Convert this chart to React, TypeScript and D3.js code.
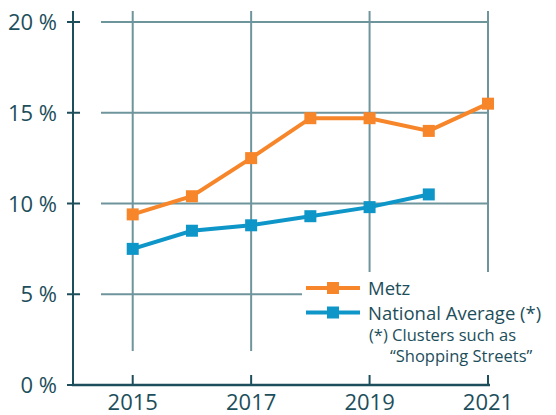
import { useEffect, useRef } from 'react';
import * as d3 from 'd3';

// data
const years = [2015, 2016, 2017, 2018, 2019, 2020, 2021];
const metz = [9.4, 10.4, 12.5, 14.7, 14.7, 14.0, 15.5];
const nationalYears = [2015, 2016, 2017, 2018, 2019, 2020];
const national = [7.5, 8.5, 8.8, 9.3, 9.8, 10.5];
const yTicks = [0, 5, 10, 15, 20];
const xTicks = [2015, 2017, 2019, 2021];
const seriesNames = ['Metz', 'National Average (*)'];
const footnote = ['(*) Clusters such as', '\u201CShopping Streets\u201D'];

export default function App() {
    let ref = useRef<SVGSVGElement>(null);

    useEffect(() => {
        const svg = d3.select(ref.current);
        svg.selectAll('*').remove();

        const axisColor = '#1d4e5b';
        const gridColor = '#6f959c';
        const orange = '#f7862a';
        const blue = '#0f96c9';
        const font = "'Open Sans', sans-serif";

        const x = d3.scaleLinear().domain([2014, 2021]).range([73.5, 488]);
        const y = d3.scaleLinear().domain([0, 20]).range([385, 22]);

        // grid
        svg.append('g')
            .selectAll('line')
            .data(yTicks.filter(d => d > 0))
            .join('line')
            .attr('x1', 101).attr('x2', 488)
            .attr('y1', d => y(d)).attr('y2', d => y(d))
            .attr('stroke', gridColor).attr('stroke-width', 2);
        svg.append('g')
            .selectAll('line')
            .data(xTicks)
            .join('line')
            .attr('x1', d => x(d)).attr('x2', d => x(d))
            .attr('y1', 11).attr('y2', 351)
            .attr('stroke', gridColor).attr('stroke-width', 2);

        // axes
        svg.append('line')
            .attr('x1', 73).attr('x2', 73).attr('y1', 11).attr('y2', 386)
            .attr('stroke', axisColor).attr('stroke-width', 2);
        svg.append('line')
            .attr('x1', 72).attr('x2', 490).attr('y1', 385).attr('y2', 385)
            .attr('stroke', axisColor).attr('stroke-width', 2.5);
        svg.append('g')
            .selectAll('line')
            .data(yTicks)
            .join('line')
            .attr('x1', 67).attr('x2', 80)
            .attr('y1', d => y(d)).attr('y2', d => y(d))
            .attr('stroke', axisColor).attr('stroke-width', 2);
        svg.append('g')
            .selectAll('line')
            .data(xTicks)
            .join('line')
            .attr('x1', d => x(d)).attr('x2', d => x(d))
            .attr('y1', 375).attr('y2', 385)
            .attr('stroke', axisColor).attr('stroke-width', 2);

        svg.append('g')
            .selectAll('text')
            .data(yTicks)
            .join('text')
            .attr('x', 57).attr('y', d => y(d) + 8)
            .attr('text-anchor', 'end')
            .attr('font-family', font).attr('font-size', 22)
            .attr('fill', axisColor)
            .text(d => `${d} %`);
        svg.append('g')
            .selectAll('text')
            .data(xTicks)
            .join('text')
            .attr('x', d => x(d)).attr('y', 410)
            .attr('text-anchor', 'middle')
            .attr('font-family', font).attr('font-size', 22)
            .attr('fill', axisColor)
            .text(d => d);

        // series
        const line = d3.line<[number, number]>().x(d => x(d[0])).y(d => y(d[1]));
        const series = [
            { pts: years.map((yr, i) => [yr, metz[i]] as [number, number]), color: orange },
            { pts: nationalYears.map((yr, i) => [yr, national[i]] as [number, number]), color: blue },
        ];
        series.forEach(s => {
            svg.append('path')
                .attr('d', line(s.pts))
                .attr('fill', 'none')
                .attr('stroke', s.color).attr('stroke-width', 4);
            svg.append('g')
                .selectAll('rect')
                .data(s.pts)
                .join('rect')
                .attr('x', d => x(d[0]) - 6).attr('y', d => y(d[1]) - 6)
                .attr('width', 12).attr('height', 12)
                .attr('fill', s.color);
        });

        // legend
        const lg = svg.append('g');
        lg.append('rect')
            .attr('x', 302).attr('y', 272).attr('width', 254).attr('height', 95)
            .attr('fill', '#fff');
        [orange, blue].forEach((c, i) => {
            const ly = 288 + i * 24.5;
            lg.append('line')
                .attr('x1', 306).attr('x2', 360).attr('y1', ly).attr('y2', ly)
                .attr('stroke', c).attr('stroke-width', 4);
            lg.append('rect')
                .attr('x', 327).attr('y', ly - 6).attr('width', 12).attr('height', 12)
                .attr('fill', c);
            lg.append('text')
                .attr('x', 368).attr('y', ly + 7)
                .attr('font-family', font).attr('font-size', 18.5)
                .attr('fill', axisColor)
                .text(seriesNames[i]);
        });
        lg.append('text')
            .attr('x', 369).attr('y', 341)
            .attr('font-family', font).attr('font-size', 16.5)
            .attr('fill', axisColor)
            .text(footnote[0]);
        lg.append('text')
            .attr('x', 390).attr('y', 362)
            .attr('font-family', font).attr('font-size', 16.5)
            .attr('fill', axisColor)
            .text(footnote[1]);
    }, []);

    return <svg ref={ref} width={556} height={415} style={{ position: 'absolute', left: 0, top: 0 }}></svg>;
}
